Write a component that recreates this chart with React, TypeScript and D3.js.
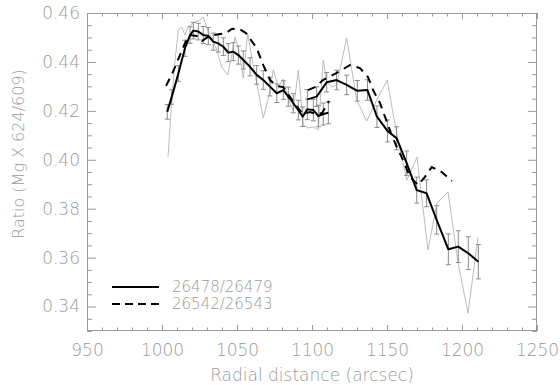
import React, { useRef, useEffect } from 'react';
import * as d3 from 'd3';

// 26478/26479, inner segment (with error bars)
const solidAX = [1003.5, 1006.5, 1010.9, 1015.3, 1018.7, 1020.9, 1024.2, 1027.5, 1030.9, 1034.2, 1037.5, 1040.9, 1044.2, 1047.5, 1050.9, 1054.2, 1058.7, 1063.1, 1067.5, 1072.0, 1076.5, 1080.9, 1084.2, 1087.5, 1090.9, 1093.8, 1096.9, 1100.9, 1104.2, 1107.5, 1110.9];
const solidAY = [0.4196, 0.4257, 0.4353, 0.4456, 0.4510, 0.4528, 0.4524, 0.4510, 0.4506, 0.4483, 0.4476, 0.4462, 0.4438, 0.4442, 0.4428, 0.4408, 0.4380, 0.4347, 0.4326, 0.4299, 0.4272, 0.4285, 0.4258, 0.4231, 0.4203, 0.4176, 0.4206, 0.4203, 0.4179, 0.4187, 0.4192];
const solidAErr = [0.003, 0.003, 0.0032, 0.0033, 0.0034, 0.0034, 0.0034, 0.0035, 0.0035, 0.0035, 0.0036, 0.0036, 0.0037, 0.0037, 0.0037, 0.0037, 0.0037, 0.0038, 0.0038, 0.0038, 0.0038, 0.0038, 0.0039, 0.0039, 0.004, 0.004, 0.0042, 0.0044, 0.0044, 0.0045, 0.0045];

// 26478/26479, outer segment
const solidBX = [1096.9, 1103.1, 1109.8, 1116.4, 1123.1, 1130.2, 1137.0, 1143.3, 1150.3, 1156.4, 1163.1, 1169.8, 1176.4, 1183.1, 1190.9, 1197.5, 1204.2, 1210.9];
const solidBY = [0.4247, 0.4258, 0.4317, 0.4326, 0.4306, 0.4282, 0.4285, 0.4176, 0.4118, 0.4088, 0.3986, 0.3876, 0.3863, 0.3754, 0.3634, 0.3645, 0.3618, 0.3583];
const solidBErr = [0.004, 0.004, 0.004, 0.004, 0.004, 0.0042, 0.0042, 0.0044, 0.0045, 0.0047, 0.005, 0.0053, 0.0055, 0.0058, 0.0063, 0.0065, 0.0067, 0.007];

// 26542/26543, two segments
const dashAX = [1002.7, 1007.3, 1012.0, 1015.3, 1018.7, 1023.1, 1026.7, 1030.7, 1034.7, 1038.7, 1042.7, 1046.5, 1050.9, 1056.0, 1063.1, 1067.5, 1072.0, 1076.5, 1080.9, 1085.3, 1090.0, 1094.0, 1098.7, 1102.7, 1106.7, 1111.3];
const dashAY = [0.4302, 0.4359, 0.4428, 0.4477, 0.4510, 0.4506, 0.4486, 0.4502, 0.4510, 0.4514, 0.4518, 0.4535, 0.4537, 0.4518, 0.4457, 0.4387, 0.4326, 0.4302, 0.4297, 0.4257, 0.4216, 0.4187, 0.4195, 0.4187, 0.4191, 0.4240];
const dashBX = [1097.3, 1102.0, 1107.3, 1116.5, 1125.3, 1132.0, 1137.3, 1140.7, 1145.3, 1148.7, 1153.1, 1156.5, 1159.8, 1165.3, 1170.7, 1175.3, 1179.8, 1186.5, 1193.3];
const dashBY = [0.4285, 0.4297, 0.4326, 0.4355, 0.4387, 0.4375, 0.4338, 0.4285, 0.4232, 0.4175, 0.4101, 0.4052, 0.4011, 0.3930, 0.3897, 0.3930, 0.3970, 0.3950, 0.3913];

// thin grey unsmoothed profile
const rawX = [1004.0, 1006.5, 1008.7, 1010.9, 1013.1, 1015.3, 1017.5, 1020.9, 1025.3, 1027.5, 1030.9, 1033.1, 1036.5, 1039.8, 1043.8, 1046.5, 1048.7, 1050.9, 1054.2, 1057.1, 1059.8, 1063.1, 1067.5, 1070.9, 1074.2, 1077.5, 1080.9, 1084.2, 1087.5, 1090.9, 1094.2, 1097.5, 1100.9, 1104.2, 1107.5, 1109.8, 1113.1, 1116.5, 1123.1, 1129.8, 1136.5, 1143.1, 1150.2, 1154.2, 1158.7, 1163.3, 1170.0, 1177.3, 1183.3, 1190.7, 1197.3, 1204.0, 1210.7];
const rawY = [0.4011, 0.4244, 0.4408, 0.4531, 0.4543, 0.4510, 0.4543, 0.4559, 0.4571, 0.4584, 0.4522, 0.4502, 0.4449, 0.4379, 0.4347, 0.4428, 0.4502, 0.4461, 0.4334, 0.4518, 0.4420, 0.4314, 0.4171, 0.4252, 0.4367, 0.4297, 0.4330, 0.4244, 0.4203, 0.4367, 0.4142, 0.4130, 0.4134, 0.4122, 0.4408, 0.4318, 0.4297, 0.4306, 0.4498, 0.4244, 0.4158, 0.4244, 0.4326, 0.4183, 0.4040, 0.3917, 0.4011, 0.3631, 0.3823, 0.3868, 0.3582, 0.3373, 0.3684];

const xTicks = [950, 1000, 1050, 1100, 1150, 1200, 1250];
const yTicks = [0.34, 0.36, 0.38, 0.40, 0.42, 0.44, 0.46];
const legendLabels = ['26478/26479', '26542/26543'];

const zip = (xs: number[], ys: number[]) => xs.map((v, i) => [v, ys[i]] as [number, number]);

export default function App() {
  const svgRef = useRef<SVGSVGElement>(null);

  useEffect(() => {
    const width = 560;
    const height = 385;
    const marginTop = 13;
    const marginRight = 23;
    const marginBottom = 54;
    const marginLeft = 87;
    const axisColor = '#9a9a9a';
    const font = '"DejaVu Sans", sans-serif';

    const x = d3.scaleLinear().domain([950, 1250]).range([marginLeft, width - marginRight]);
    const y = d3.scaleLinear().domain([0.33, 0.46]).range([height - marginBottom, marginTop]);

    const svg = d3.select(svgRef.current);
    svg.selectAll('*').remove();
    svg.attr('width', width).attr('height', height).attr('viewBox', [0, 0, width, height]);

    const minorX = d3.range(950, 1251, 10).filter(v => v % 50 !== 0);
    const minorY = d3.range(0, 27).map(i => 0.33 + i * 0.005).filter(v => Math.abs(Math.round(v * 50) - v * 50) > 1e-6);

    const styleAxis = (g: any) => {
      g.select('.domain').remove();
      g.selectAll('line').attr('stroke', axisColor);
      g.selectAll('text').attr('fill', axisColor).attr('font-family', font).attr('font-weight', 200).attr('font-size', 17);
    };

    // bottom + top
    svg.append('g').attr('transform', `translate(0,${height - marginBottom})`)
      .call(d3.axisBottom(x).tickValues(xTicks).tickSize(-6).tickPadding(13).tickFormat(d3.format('d')))
      .call(styleAxis);
    svg.append('g').attr('transform', `translate(0,${height - marginBottom})`)
      .call(d3.axisBottom(x).tickValues(minorX).tickSize(-3.5).tickFormat(() => ''))
      .call(styleAxis);
    svg.append('g').attr('transform', `translate(0,${marginTop})`)
      .call(d3.axisTop(x).tickValues(xTicks).tickSize(-6).tickFormat(() => ''))
      .call(styleAxis);
    svg.append('g').attr('transform', `translate(0,${marginTop})`)
      .call(d3.axisTop(x).tickValues(minorX).tickSize(-3.5).tickFormat(() => ''))
      .call(styleAxis);

    // left + right
    svg.append('g').attr('transform', `translate(${marginLeft},0)`)
      .call(d3.axisLeft(y).tickValues(yTicks).tickSize(-9).tickPadding(7).tickFormat(d3.format('.2f')))
      .call(styleAxis);
    svg.append('g').attr('transform', `translate(${marginLeft},0)`)
      .call(d3.axisLeft(y).tickValues(minorY).tickSize(-5).tickFormat(() => ''))
      .call(styleAxis);
    svg.append('g').attr('transform', `translate(${width - marginRight},0)`)
      .call(d3.axisRight(y).tickValues(yTicks).tickSize(-9).tickFormat(() => ''))
      .call(styleAxis);
    svg.append('g').attr('transform', `translate(${width - marginRight},0)`)
      .call(d3.axisRight(y).tickValues(minorY).tickSize(-5).tickFormat(() => ''))
      .call(styleAxis);

    svg.append('rect')
      .attr('x', marginLeft + 0.5).attr('y', marginTop + 0.5)
      .attr('width', width - marginLeft - marginRight - 1).attr('height', height - marginTop - marginBottom - 1)
      .attr('fill', 'none').attr('stroke', axisColor);

    // axis titles
    svg.append('text')
      .attr('x', (marginLeft + width - marginRight) / 2).attr('y', 381)
      .attr('text-anchor', 'middle').attr('fill', axisColor)
      .attr('font-family', font).attr('font-weight', 200).attr('font-size', 17)
      .text('Radial distance (arcsec)');
    svg.append('text')
      .attr('transform', 'translate(24,154) rotate(-90)')
      .attr('text-anchor', 'middle').attr('fill', axisColor)
      .attr('font-family', font).attr('font-weight', 200).attr('font-size', 16)
      .text('Ratio (Mg X 624/609)');

    const line = d3.line<[number, number]>().x(d => x(d[0])).y(d => y(d[1]));

    // raw grey profile
    svg.append('path')
      .attr('d', line(zip(rawX, rawY)))
      .attr('fill', 'none').attr('stroke', '#b4b4b4').attr('stroke-width', 0.9);

    // error bars on the solid profile
    const errs = [
      ...solidAX.map((v, i) => ({ x: v, y: solidAY[i], e: solidAErr[i] })),
      ...solidBX.map((v, i) => ({ x: v, y: solidBY[i], e: solidBErr[i] }))
    ];
    const eb = svg.append('g').attr('stroke', '#8c8c8c').attr('stroke-width', 1).attr('fill', 'none');
    eb.selectAll('path').data(errs).join('path')
      .attr('d', d => {
        const cx = x(d.x), y0 = y(d.y - d.e), y1 = y(d.y + d.e);
        return `M${cx},${y0}V${y1}M${cx - 2.5},${y0}H${cx + 2.5}M${cx - 2.5},${y1}H${cx + 2.5}`;
      });

    // solid profiles
    [zip(solidAX, solidAY), zip(solidBX, solidBY)].forEach(pts => {
      svg.append('path').attr('d', line(pts))
        .attr('fill', 'none').attr('stroke', '#000').attr('stroke-width', 2).attr('stroke-linejoin', 'round');
    });

    // dashed profiles
    [zip(dashAX, dashAY), zip(dashBX, dashBY)].forEach(pts => {
      svg.append('path').attr('d', line(pts))
        .attr('fill', 'none').attr('stroke', '#000').attr('stroke-width', 2).attr('stroke-dasharray', '8,6');
    });

    // legend
    const legend = svg.append('g');
    legendLabels.forEach((label, i) => {
      const ly = 287 + i * 17;
      legend.append('line')
        .attr('x1', 112).attr('x2', 159).attr('y1', ly).attr('y2', ly)
        .attr('stroke', '#000').attr('stroke-width', i === 0 ? 2 : 2)
        .attr('stroke-dasharray', i === 0 ? null : '8,5');
      legend.append('text')
        .attr('x', 172).attr('y', ly).attr('dy', '0.35em')
        .attr('fill', axisColor).attr('font-family', font).attr('font-weight', 200).attr('font-size', 15)
        .text(label);
    });
  }, []);

  return (
    <svg ref={svgRef} style={{ position: 'absolute', left: 0, top: 0, background: '#fff' }}></svg>
  );
}
